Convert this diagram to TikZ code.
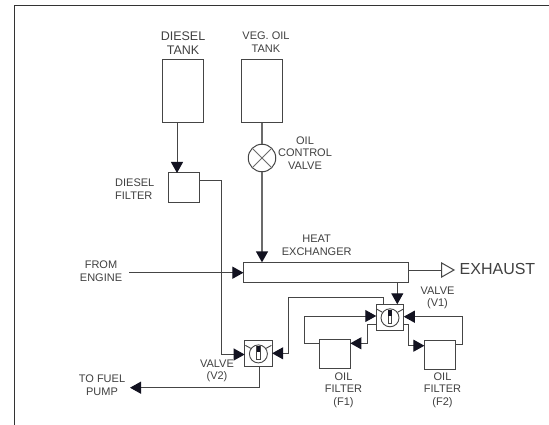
\documentclass[tikz,border=0pt]{standalone}
\usepackage{fontspec}
\setmainfont{Liberation Sans}
\usetikzlibrary{arrows.meta}
\definecolor{ln}{gray}{0.27}
\definecolor{lnv}{gray}{0.42}
\definecolor{tx}{gray}{0.25}
\definecolor{tip}{RGB}{18,18,32}
\tikzset{
  box/.style={draw=ln,line width=1pt,inner sep=0pt,outer sep=0pt,fill=white},
  lab/.style={text=tx,font=\fontsize{11}{12.7}\selectfont,align=center,inner sep=0pt},
  flow/.style={draw=ln,line width=1pt,-{Triangle[length=11pt,width=12pt,color=tip]}},
  plain/.style={draw=ln,line width=1pt},
  sym/.style={draw=ln,line width=0.9pt},
  veg/.style={draw=lnv,line width=1.3pt}
}
\newcommand{\valvebox}[3]{% name, x, y
  \node[box,minimum width=27.5pt,minimum height=26pt] (#1) at (#2,#3) {};
  \begin{scope}[shift={(#2,#3)}]
    \draw[sym] (0,0.5) circle (9);
    \draw[sym,line width=1.1pt] (-1.7,-7) rectangle (1.7,6.5);
    \fill[tip] (-1.7,-7) rectangle (1.7,-1);
    \draw[sym] (-7.5,-5) -- (-13,-8);
    \draw[sym] (7.5,-5) -- (13,-8);
  \end{scope}}
\begin{document}
\begin{tikzpicture}[x=1pt,y=-1pt]
\useasboundingbox (0,0) rectangle (549,425);
\fill[white] (0,0) rectangle (549,425);
\coordinate (fa) at (14.5,425);
\coordinate (fb) at (14.5,5.5);
\coordinate (fc) at (549,5.5);
\draw[draw=black!80,line width=1pt] (fa) -- (fb) -- (fc);

% equipment
\node[box,minimum width=41pt,minimum height=63pt] (dtank) at (182.5,91.5) {};
\node[box,minimum width=41pt,minimum height=63pt] (vtank) at (261.5,91.5) {};
\node[box,minimum width=31pt,minimum height=29pt] (dfilt) at (184,187.5) {};
\node[box,circle,minimum size=27.5pt] (ocv) at (262,158) {};
\draw[sym,draw=lnv] (ocv.45) -- (ocv.225) (ocv.135) -- (ocv.315);
\node[box,minimum width=165.5pt,minimum height=19.7pt] (hx) at (326.2,272.2) {};
\node[box,minimum width=31.3pt,minimum height=29pt] (f1) at (334.7,353.8) {};
\node[box,minimum width=31.3pt,minimum height=29pt] (f2) at (440,354.5) {};
\valvebox{v1}{390}{317.3}
\valvebox{v2}{258.4}{353.4}

% free ends and routing points
\coordinate (eng) at (129,272.7);
\coordinate (pump) at (130,387.7);
\coordinate (exh) at (441.7,270);
\coordinate (xd) at (177,0);
\coordinate (xh) at (397.3,0);
\coordinate (xt) at (383.7,0);
\coordinate (xb) at (259.5,0);

% connectors
\draw[flow] (dtank.south -| xd) -- (dfilt.north -| xd);
\draw[veg] (vtank.south -| ocv) -- (ocv.north);
\draw[flow,veg] (ocv.south) -- (hx.north -| ocv);
\draw[flow] (dfilt.east |- 0,181) -- (221,181) -- (221,354.5) -- (v2.west |- 0,354.5);
\draw[flow] (eng) -- (hx.west |- eng);
\draw[plain] (hx.east |- exh) -- (exh);
\draw[plain] (exh |- 0,263) -- (454,270) -- (exh |- 0,277) -- cycle;
\draw[flow] (hx.south -| xh) -- (v1.north -| xh);
\draw[flow] (v1.north -| xt) -- (xt |- 0,297.7) -- (288.3,297.7) -- (288.3,353.3) -- (v2.east |- 0,353.3);
\draw[flow] (v2.south -| xb) -- (xb |- pump) -- (pump);
\draw[flow] (f1.west |- 0,343.3) -- (304.7,343.3) -- (304.7,316) -- (v1.west |- 0,316);
\draw[flow] (v1.west |- 0,324) -- (367.7,324) -- (367.7,343.3) -- (f1.east |- 0,343.3);
\draw[flow] (v1.east |- 0,324) -- (408.3,324) -- (408.3,345.7) -- (f2.west |- 0,345.7);
\draw[flow] (f2.east |- 0,344.3) -- (462.3,344.3) -- (462.3,316.7) -- (v1.east |- 0,316.7);

% labels
\node[lab,font=\fontsize{12.5}{14}\selectfont] (tdt) at (183,43) {DIESEL\\TANK};
\node[lab] (tvt) at (266,42.5) {VEG. OIL\\TANK};
\node[lab] (tocv) at (305,153) {OIL\\CONTROL\\VALVE};
\node[lab,align=left,anchor=west] (tdf) at (115,189) {DIESEL\\FILTER};
\node[lab] (thx) at (316.7,245.5) {HEAT\\EXCHANGER};
\node[lab] (tfe) at (101,271) {FROM\\ENGINE};
\node[lab] (tfp) at (102,385.5) {TO FUEL\\PUMP};
\node[lab] (tv2) at (217,371) {VALVE\\(V2)};
\node[lab] (tv1) at (437.5,298) {VALVE\\(V1)};
\node[lab] (tf1) at (343.5,390) {OIL\\FILTER\\(F1)};
\node[lab] (tf2) at (442.5,390) {OIL\\FILTER\\(F2)};
\node[lab,anchor=west,font=\fontsize{16}{18}\selectfont] (tex) at (459.5,268.5) {EXHAUST};
\end{tikzpicture}
\end{document}
